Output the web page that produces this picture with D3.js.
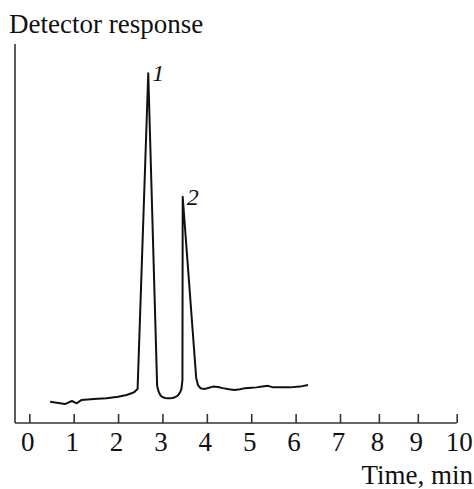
<!DOCTYPE html>
<html>
<head>
<meta charset="utf-8">
<script src="https://cdn.jsdelivr.net/npm/d3@7"></script>
<style>
  body { margin: 0; background: #fff; }
  text { font-family: "Liberation Serif", "Times New Roman", serif; fill: #111; }
</style>
</head>
<body>
<svg id="chart"></svg>
<script>
// chromatogram trace, time in min vs detector response (arbitrary units)
var times = [0.47, 0.80, 0.96, 1.07, 1.18, 1.45, 1.74, 2.00, 2.19, 2.32, 2.38, 2.40, 2.44,
             2.68,
             2.88, 2.91, 2.94, 2.97, 3.01, 3.06, 3.11, 3.17, 3.23, 3.28, 3.33, 3.37, 3.41, 3.43, 3.45,
             3.456,
             3.76, 3.80, 3.84, 3.87, 3.96, 4.05, 4.14, 4.25, 4.36, 4.50, 4.63, 4.75, 4.86, 5.00,
             5.12, 5.25, 5.38, 5.49, 5.70, 5.87, 6.10, 6.28];
var response = [5.6, 5.0, 5.8, 5.2, 6.1, 6.3, 6.5, 6.9, 7.4, 7.9, 8.3, 8.6, 9.0,
                92.3,
                9.8, 8.4, 7.6, 7.1, 6.8, 6.6, 6.5, 6.5, 6.6, 6.8, 7.1, 7.6, 8.4, 9.2, 11.3,
                59.7,
                11.9, 10.0, 9.4, 9.1, 9.0, 9.3, 9.6, 9.5, 9.2, 8.9, 8.7, 8.9, 9.2, 9.3,
                9.4, 9.6, 9.8, 9.4, 9.4, 9.4, 9.6, 10.0];
var peakTimes = [2.68, 3.456];
var peakResponse = [92.3, 59.7];
var peakLabels = ["1", "2"];
var xTicks = [0, 1, 2, 3, 4, 5, 6, 7, 8, 9, 10];
var xTitle = "Time, min";
var yTitle = "Detector response";

var screen = {width: 474, height: 489};
var svg = d3.select("#chart")
    .attr("width", screen.width)
    .attr("height", screen.height);

// original axis is slightly compressed beyond 7 min
var xScale = d3.scaleLinear()
    .domain([0, 7, 10])
    .range([29.3, 340, 456.7]);
var yScale = d3.scaleLinear()
    .domain([0, 100])
    .range([423, 44]);
var axisX = 15;

var pts = times.map(function(t, i){ return [t, response[i]]; });

// y axis line (no ticks)
svg.append("line")
    .attr("x1", axisX).attr("x2", axisX)
    .attr("y1", yScale(100)).attr("y2", yScale(0))
    .attr("stroke", "#333").attr("stroke-width", 1.6);

// x axis line
svg.append("line")
    .attr("x1", axisX).attr("x2", xScale(10))
    .attr("y1", yScale(0)).attr("y2", yScale(0))
    .attr("stroke", "#333").attr("stroke-width", 1.6);

var xAxis = d3.axisBottom(xScale)
    .tickValues(xTicks)
    .tickSizeInner(-9)
    .tickSizeOuter(0)
    .tickPadding(0)
    .tickFormat(d3.format("d"));

var gx = svg.append("g")
    .attr("transform", "translate(0," + yScale(0) + ")")
    .call(xAxis);
gx.select(".domain").remove();
gx.selectAll(".tick line").attr("stroke", "#333").attr("stroke-width", 1.6);
gx.selectAll(".tick text")
    .attr("y", 28)
    .attr("dy", 0)
    .attr("dx", function(d){ return d === 10 ? 2 : -2; })
    .style("font-family", "'Liberation Serif', serif")
    .style("font-size", "27px")
    .attr("fill", "#111");

svg.append("text")
    .attr("x", 473).attr("y", 484)
    .attr("text-anchor", "end")
    .style("font-size", "27px")
    .text(xTitle);

svg.append("text")
    .attr("x", 9).attr("y", 33)
    .style("font-size", "27px")
    .text(yTitle);

var line = d3.line()
    .x(function(d){ return xScale(d[0]); })
    .y(function(d){ return yScale(d[1]); })
    .curve(d3.curveLinear);

svg.append("path")
    .datum(pts)
    .attr("d", line)
    .attr("fill", "none")
    .attr("stroke", "#111")
    .attr("stroke-width", 2)
    .attr("stroke-linejoin", "round");

svg.selectAll(".peak-label")
    .data(peakLabels)
    .enter()
    .append("text")
    .attr("class", "peak-label")
    .attr("x", function(d, i){ return xScale(peakTimes[i]) + 4; })
    .attr("y", function(d, i){ return yScale(peakResponse[i]) + 8; })
    .style("font-size", "24px")
    .style("font-style", "italic")
    .text(function(d){ return d; });
</script>
</body>
</html>
